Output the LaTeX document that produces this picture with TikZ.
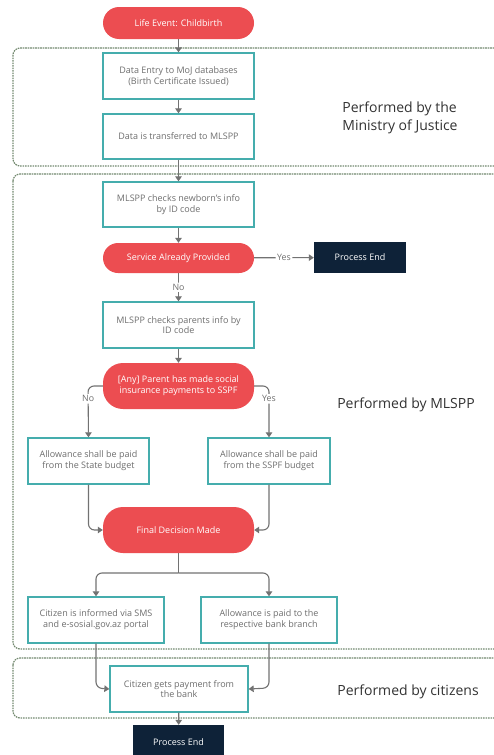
\documentclass[tikz,border=0pt]{standalone}
\usepackage{fontspec}
\setmainfont{Open Sans}
\usetikzlibrary{arrows.meta,positioning}
\definecolor{pillred}{HTML}{EC4D51}
\definecolor{tealb}{HTML}{45ADAD}
\definecolor{navy}{HTML}{0E2238}
\definecolor{txtgray}{HTML}{6E6E6E}
\definecolor{arrgray}{HTML}{727272}
\definecolor{lanegray}{HTML}{73896F}
\begin{document}
\begin{tikzpicture}[x=1pt,y=-1pt,
  stepbox/.style={draw=tealb,line width=1.3pt,fill=white,minimum height=46pt,align=center,
    font=\fontsize{9}{10.8}\selectfont,text=txtgray,inner sep=2pt},
  pill/.style={fill=pillred,rounded corners=15pt,minimum width=151pt,align=center,
    font=\fontsize{9}{10.8}\selectfont,text=white,inner sep=2pt},
  endbox/.style={fill=navy,minimum width=92pt,minimum height=31pt,
    font=\fontsize{9}{10}\selectfont,text=white},
  lane/.style={draw=lanegray,line width=1.2pt,dash pattern=on 1.6pt off 0.9pt,rounded corners=7pt},
  lanelabel/.style={font=\fontsize{14}{18}\selectfont,text=black!80,align=left},
  flow/.style={draw=arrgray,line width=1.1pt,-{Triangle[width=6.5pt,length=5pt]},rounded corners=6pt},
  plain/.style={draw=arrgray,line width=1.1pt,rounded corners=6pt},
  lbl/.style={fill=white,font=\fontsize{8.8}{9}\selectfont,text=txtgray,inner sep=1.5pt}
]
\useasboundingbox (0,0) rectangle (493,755);
\fill[white] (0,0) rectangle (493,755);

% lanes
\draw[lane] (13,48) rectangle (510,166);
\draw[lane] (13,174) rectangle (510,649);
\draw[lane] (13,658) rectangle (510,718);

\node[lanelabel] (l1) at (400,118) {Performed by the\\Ministry of Justice};
\node[lanelabel] (l2) at (406,405) {Performed by MLSPP};
\node[lanelabel] (l3) at (408,692) {Performed by citizens};

% nodes
\node[pill,minimum height=32pt,rounded corners=16pt] (start) at (178.5,23) {Life Event: Childbirth};
\node[stepbox,minimum width=151pt] (b1) at (178.5,76) {Data Entry to MoJ databases\\(Birth Certificate Issued)};
\node[stepbox,minimum width=151pt,minimum height=45pt] (b2) at (178.5,136.5) {Data is transferred to MLSPP};
\node[stepbox,minimum width=151pt,minimum height=45pt] (b3) at (178.5,204.5) {MLSPP checks newborn's info\\by ID code};
\node[pill,minimum height=30pt] (p2) at (178.5,258) {Service Already Provided};
\node[endbox] (e1) at (360,257.5) {Process End};
\node[stepbox,minimum width=151pt] (b4) at (178.5,325) {MLSPP checks parents info by\\ID code};
\node[pill,minimum height=46pt,rounded corners=20pt] (p3) at (178.5,386) {[Any] Parent has made social\\insurance payments to SSPF};
\node[stepbox,minimum width=121pt] (b5) at (88.5,461) {Allowance shall be paid\\from the State budget};
\node[stepbox,minimum width=122pt] (b6) at (269,461) {Allowance shall be paid\\from the SSPF budget};
\node[pill,minimum height=46pt,rounded corners=20pt] (p4) at (178.5,530) {Final Decision Made};
\node[stepbox,minimum width=136pt] (b7) at (96,620) {Citizen is informed via SMS\\and e-sosial.gov.az portal};
\node[stepbox,minimum width=136pt] (b8) at (269,620) {Allowance is paid to the\\respective bank branch};
\node[stepbox,minimum width=138pt] (b9) at (179,689) {Citizen gets payment from\\the bank};
\node[endbox,minimum width=91pt,minimum height=36pt] (e2) at (178.5,743) {};
\node[font=\fontsize{9}{10}\selectfont,text=white] (e2t) at (178.5,742) {Process End};

% connectors
\draw[flow] (start) -- (b1);
\draw[flow] (b1) -- (b2);
\draw[flow] (b2) -- (b3);
\draw[flow] (b3) -- (p2);
\draw[flow] (p2) -- node[lbl] {Yes} (e1);
\draw[flow] (p2) -- node[lbl,pos=0.5] {No} (b4);
\draw[flow] (b4) -- (p3);
\draw[flow] (p3.west) -- (88,386) -- node[lbl,pos=0.25] {No} (b5.north);
\draw[flow] (p3.east) -- (269,386) -- node[lbl,pos=0.25] {Yes} (b6.north);
\draw[flow] (b5.south) -- (88.5,530) -- (p4.west);
\draw[flow] (b6.south) -- (269,530) -- (p4.east);
\coordinate (split) at (178.5,573);
\draw[plain] (p4.south) -- (split);
\draw[flow] (split) -- (96,573) -- (b7.north);
\draw[flow] (split) -- (269,573) -- (b8.north);
\draw[flow] (b7.south) -- (96,688) -- (b9.west);
\draw[flow] (b8.south) -- (269,688) -- (b9.east);
\draw[flow] (b9) -- (e2);
\end{tikzpicture}
\end{document}
